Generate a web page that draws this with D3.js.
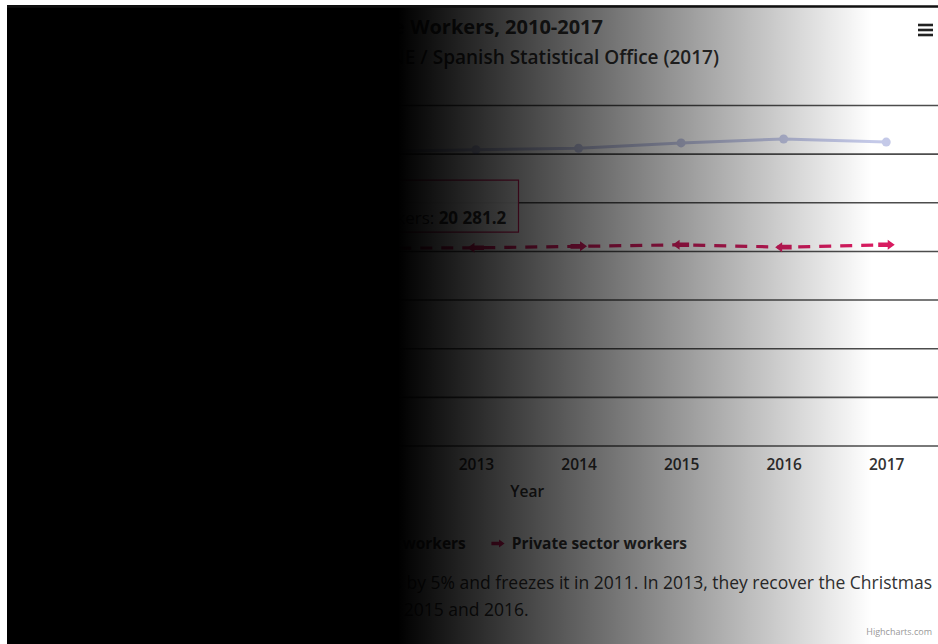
<!DOCTYPE html>
<html>
<head>
<meta charset="utf-8">
<script src="https://cdn.jsdelivr.net/npm/d3@7"></script>
<style>
  html, body { margin: 0; padding: 0; background: #fff; }
  svg { display: block; font-family: "Open Sans", "Noto Sans", sans-serif; }
</style>
</head>
<body>
<svg id="chart" width="938" height="644"></svg>
<script>
// ---- data ----
const years = [2010, 2011, 2012, 2013, 2014, 2015, 2016, 2017];
const publicSalary  = [31150, 30690, 30220, 30400, 30560, 31100, 31500, 31190];
const privateSalary = [20110, 20190, 20281.2, 20320, 20470, 20630, 20390, 20630];
const privateArrows = ["right", "left", "left", "left", "right", "left", "left", "right"];
const seriesNames = ["Public sector workers", "Private sector workers"];
const yTicks = [0, 5000, 10000, 15000, 20000, 25000, 30000, 35000];
const titleText = "Salary of Public and Private Workers, 2010-2017";
const subtitleText = "Source: INE / Spanish Statistical Office (2017)";
const captionLines = [
  "The government cuts the pay of public workers by 5% and freezes it in 2011. In 2013, they recover the Christmas",
  "bonus withheld in 2012, which they get back in 2015 and 2016."
];
const hoverIndex = 2; // point shown in the tooltip

// ---- layout ----
const W = 938, H = 644;
const plot = { left: 117, right: 937.5, top: 105, bottom: 445.5 };
const colors = { public: "#3f51b5", private: "#d81b60", text: "#333333", grid: "#4d4d4d" };

const svg = d3.select("#chart");
const defs = svg.append("defs");

const x = d3.scalePoint().domain(years).range([plot.left, plot.right]).padding(0.5);
const y = d3.scaleLinear().domain([0, 35000]).range([plot.bottom, plot.top]);

svg.append("rect").attr("width", W).attr("height", H).attr("fill", "#fff");

// gridlines + y labels
const yAxis = svg.append("g")
  .attr("transform", `translate(${plot.left},0)`)
  .call(d3.axisLeft(y).tickValues(yTicks).tickSize(-(plot.right - plot.left + 1))
    .tickFormat(d => d === 0 ? "0" : (d / 1000) + "k"));
yAxis.select(".domain").remove();
yAxis.selectAll(".tick line").attr("stroke", colors.grid).attr("stroke-width", 1.6);
yAxis.selectAll(".tick text").attr("x", -10).attr("fill", colors.text)
  .style("font-size", "14px").style("font-family", "Open Sans, sans-serif");

svg.append("text")
  .attr("transform", `translate(40,${(plot.top + plot.bottom) / 2}) rotate(-90)`)
  .attr("text-anchor", "middle").attr("fill", colors.text)
  .style("font-size", "15px").style("font-weight", 600)
  .text("Average annual salary (€)");

// x labels
const xAxis = svg.append("g")
  .attr("transform", `translate(0,${plot.bottom})`)
  .call(d3.axisBottom(x).tickSize(0).tickPadding(13));
xAxis.select(".domain").remove();
xAxis.selectAll(".tick text").attr("fill", colors.text)
  .style("font-size", "15.5px").style("font-weight", 600).style("font-family", "Open Sans, sans-serif");

svg.append("text")
  .attr("x", (plot.left + plot.right) / 2).attr("y", 497)
  .attr("text-anchor", "middle").attr("fill", colors.text)
  .style("font-size", "15.5px").style("font-weight", 600)
  .text("Year");

// arrow marker shape
function arrowPath(dir, s = 1) {
  const k = dir === "left" ? -1 : 1;
  const p = [[-8, -2.3], [1.5, -2.3], [1.5, -5], [8.5, 0], [1.5, 5], [1.5, 2.3], [-8, 2.3]];
  return "M" + p.map(([a, b]) => [a * k * s, b * s].join(",")).join("L") + "Z";
}

// public series (dimmed while the private series is hovered)
const line = d3.line().x((d, i) => x(years[i])).y(d => y(d));
const pubG = svg.append("g").attr("opacity", 0.3);
pubG.append("path").datum(publicSalary).attr("d", line)
  .attr("fill", "none").attr("stroke", colors.public).attr("stroke-width", 3)
  .attr("stroke-linejoin", "round");
pubG.selectAll("circle").data(publicSalary).join("circle")
  .attr("cx", (d, i) => x(years[i])).attr("cy", d => y(d)).attr("r", 4.5)
  .attr("fill", colors.public);

// private series
const privG = svg.append("g");
privG.append("path").datum(privateSalary).attr("d", line)
  .attr("fill", "none").attr("stroke", colors.private).attr("stroke-width", 3.2)
  .attr("stroke-dasharray", "12,9");
privG.selectAll("path.arrow").data(privateSalary).join("path")
  .attr("class", "arrow")
  .attr("transform", (d, i) => `translate(${x(years[i])},${y(d)})`)
  .attr("d", (d, i) => arrowPath(privateArrows[i]))
  .attr("fill", colors.private);

// tooltip for the hovered point
const fmt = v => d3.format(",.1f")(v).replace(/,/g, " ");
const px = x(years[hoverIndex]), py = y(privateSalary[hoverIndex]);
const tip = svg.append("g");
const tipBox = tip.append("path");
const tipText = tip.append("text").attr("fill", colors.text);
tipText.append("tspan").attr("x", 0).attr("dy", 0).style("font-size", "11px").text(years[hoverIndex]);
const l2 = tipText.append("tspan").attr("x", 0).attr("dy", 27).style("font-size", "17px");
l2.append("tspan").attr("fill", colors.private).text("● ");
l2.append("tspan").text(seriesNames[1] + ": ");
l2.append("tspan").style("font-weight", 700).text(fmt(privateSalary[hoverIndex]));
const tw = tipText.node().getBBox().width + 22;
const th = 52;
const bx = px - tw / 2, by = py - 16 - th;
tipBox.attr("d", `M${bx},${by}H${bx + tw}V${by + th}H${px + 6}L${px},${by + th + 8}L${px - 6},${by + th}H${bx}Z`)
  .attr("fill", "rgba(255,255,255,0.92)").attr("stroke", colors.private).attr("stroke-width", 1.2);
tipText.attr("transform", `translate(${bx + 10},${by + 17})`);

// legend
const legend = svg.append("g");
const items = legend.selectAll("g").data(seriesNames).join("g");
items.append("text").attr("x", 26).attr("y", 0).attr("fill", colors.text)
  .style("font-size", "15.5px").style("font-weight", 700).text(d => d);
let lx = 0;
items.each(function () {
  const g = d3.select(this);
  g.attr("transform", `translate(${lx},0)`);
  lx += 26 + g.select("text").node().getComputedTextLength() + 20;
});
lx -= 20;
const legendX = 480 - lx / 2;
legend.attr("transform", `translate(${legendX},549)`);
items.filter((d, i) => i === 0).each(function () {
  const g = d3.select(this).append("g").attr("opacity", 0.3);
  g.append("line").attr("x1", 2).attr("x2", 20).attr("y1", -5).attr("y2", -5)
    .attr("stroke", colors.public).attr("stroke-width", 3);
  g.append("circle").attr("cx", 11).attr("cy", -5).attr("r", 4.5).attr("fill", colors.public);
});
items.filter((d, i) => i === 1).append("path")
  .attr("transform", "translate(12,-5.5)")
  .attr("d", arrowPath("right", 0.8)).attr("fill", colors.private);

// titles
svg.append("text").attr("x", 603).attr("y", 34).attr("text-anchor", "end")
  .attr("fill", colors.text).style("font-size", "20px").style("font-weight", 700)
  .text(titleText);
svg.append("text").attr("x", 719).attr("y", 64).attr("text-anchor", "end")
  .attr("fill", colors.text).style("font-size", "19px").style("font-weight", 600)
  .text(subtitleText);

// caption
const cap = svg.append("text").attr("fill", colors.text).style("font-size", "17.5px").style("font-weight", 500);
const c1 = cap.append("tspan").attr("y", 589).text(captionLines[0]);
const capX = 932 - c1.node().getComputedTextLength();
c1.attr("x", capX);
cap.append("tspan").attr("x", capX).attr("y", 616).text(captionLines[1]);

// credits
svg.append("text").attr("x", 932).attr("y", 635).attr("text-anchor", "end")
  .attr("fill", "#999").style("font-size", "9px").text("Highcharts.com");

// menu button
const menu = svg.append("g").attr("stroke", "#222").attr("stroke-width", 2.6);
[25, 30, 35].forEach(v => menu.append("line").attr("x1", 918).attr("x2", 933).attr("y1", v).attr("y2", v));

// shading veil across the left side
const grad = defs.append("linearGradient").attr("id", "veil")
  .attr("gradientUnits", "userSpaceOnUse").attr("x1", 398).attr("x2", 872).attr("y1", 0).attr("y2", 0);
grad.append("stop").attr("offset", 0).attr("stop-color", "#000").attr("stop-opacity", 1);
grad.append("stop").attr("offset", 1).attr("stop-color", "#000").attr("stop-opacity", 0);
svg.append("rect").attr("x", 7).attr("y", 5).attr("width", W - 7).attr("height", H - 5)
  .attr("fill", "url(#veil)");
svg.append("line").attr("x1", 7).attr("x2", W).attr("y1", 6.5).attr("y2", 6.5)
  .attr("stroke", "#111").attr("stroke-width", 2.5);
</script>
</body>
</html>
